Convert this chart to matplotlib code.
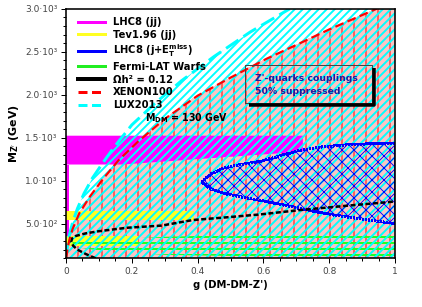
import matplotlib
matplotlib.use("Agg")
import matplotlib.pyplot as plt
from matplotlib.lines import Line2D
from matplotlib.ticker import MultipleLocator, FixedLocator

# ---------------- data ----------------
# LUX2013 exclusion boundary (region to the right is excluded)
lux_g = [0.0, 0.002, 0.005, 0.01, 0.02, 0.035, 0.055, 0.08, 0.112, 0.15, 0.2, 0.27, 0.35, 0.45, 0.56, 0.68]
lux_M = [100, 165, 260, 365, 515, 680, 855, 1030, 1210, 1410, 1650, 1900, 2160, 2445, 2730, 3000]

# XENON100 exclusion boundary
xen_g = [0.001, 0.005, 0.01, 0.02, 0.04, 0.073, 0.112, 0.16, 0.22, 0.3, 0.4, 0.5, 0.61, 0.7, 0.8, 0.944]
xen_M = [100, 220, 310, 440, 620, 820, 1020, 1240, 1460, 1720, 1990, 2200, 2420, 2580, 2760, 3000]

# LHC8 (jj) band
lhcjj_g = [0.0, 0.17, 0.72, 0.72, 0.0]
lhcjj_M = [1190, 1190, 1340, 1525, 1525]
# thin LHC8 (jj) strip along g ~ 0
lhcjj_strip_g = [0.0, 0.008, 0.008, 0.0]
lhcjj_strip_M = [360, 360, 1190, 1190]

# Tevatron 1.96 (jj) bands
tev1_g = [0.0, 0.39, 0.39, 0.0]
tev1_M = [550, 550, 645, 645]
tev2_g = [0.0, 0.22, 0.22, 0.0]
tev2_M = [245, 245, 360, 360]

# LHC8 (j + ET miss) region
mono_top_g = [0.413, 0.44, 0.48, 0.53, 0.59, 0.65, 0.71, 0.78, 0.86, 0.93, 1.0]
mono_top_M = [987, 1080, 1150, 1190, 1225, 1290, 1355, 1395, 1420, 1432, 1440]
mono_bot_g = [0.413, 0.44, 0.48, 0.53, 0.59, 0.66, 0.73, 0.81, 0.9, 1.0]
mono_bot_M = [987, 905, 855, 815, 775, 720, 665, 605, 555, 505]

# Fermi-LAT dwarfs region
fermi_top_g = [0.02, 0.1, 0.3, 0.6, 1.0]
fermi_top_M = [295, 310, 350, 380, 397]
fermi_bot_g = [0.02, 0.1, 0.3, 0.6, 1.0]
fermi_bot_M = [235, 190, 140, 120, 115]

# relic density contour
relic_g = [0.09, 0.06, 0.035, 0.022, 0.016, 0.018, 0.03, 0.06, 0.1, 0.185, 0.29, 0.386, 0.5, 0.59, 0.71, 0.85, 1.0]
relic_M = [100, 150, 200, 245, 290, 330, 360, 390, 415, 455, 480, 545, 580, 610, 660, 710, 760]

yticks = [500, 1000, 1500, 2000, 2500, 3000]
ytick_labels = ["5.0·10²", "1.0·10³", "1.5·10³", "2.0·10³", "2.5·10³", "3.0·10³"]
xticks = [0, 0.2, 0.4, 0.6, 0.8, 1.0]
xtick_labels = ["0", "0.2", "0.4", "0.6", "0.8", "1"]

legend_labels = ["LHC8 (jj)", "Tev1.96 (jj)", r"LHC8 (j+E$_T^{miss}$)", "Fermi-LAT Warfs",
                 "Ωh² = 0.12", "XENON100", "LUX2013"]

# ---------------- styling ----------------
plt.rcParams['font.family'] = ['DejaVu Sans']
plt.rcParams['mathtext.default'] = 'bf'

DPI = 72
fig = plt.figure(figsize=(422 / DPI, 307 / DPI), dpi=DPI)
ax = fig.add_axes([66 / 422, 1 - 258.3 / 307, (395 - 66) / 422, (258.3 - 8.8) / 307])
ax.set_xlim(0, 1)
ax.set_ylim(100, 3000)


def set_hlw(patches, lw):
    for p in patches:
        if hasattr(p, "set_hatch_linewidth"):
            p.set_hatch_linewidth(lw)


# XENON100 region: pink face + red vertical hatch
plt.rcParams['hatch.linewidth'] = 1.0
xp = ax.fill(xen_g + [1.0, 1.0], xen_M + [3000, 100], facecolor='#fbc4c4', edgecolor='#ff0000',
             hatch='|', linewidth=0, zorder=1, antialiased=False)
set_hlw(xp, 1.0)

# LHC8 jj band
ax.fill(lhcjj_g, lhcjj_M, facecolor='#ff00ff', edgecolor='none', linewidth=0, zorder=2)
ax.fill(lhcjj_strip_g, lhcjj_strip_M, facecolor='#ff00ff', edgecolor='none', linewidth=0, zorder=2)

# Tevatron bands
ax.fill(tev1_g, tev1_M, facecolor='#ffff22', edgecolor='none', linewidth=0, zorder=2)
ax.fill(tev2_g, tev2_M, facecolor='#ffff22', edgecolor='none', linewidth=0, zorder=2)

# Fermi-LAT region
plt.rcParams['hatch.linewidth'] = 2.0
fp = ax.fill(fermi_top_g + fermi_bot_g[::-1], fermi_top_M + fermi_bot_M[::-1], facecolor='none',
             edgecolor='#22ff22', hatch='--', linewidth=0, zorder=2.5, antialiased=False)
set_hlw(fp, 2.0)

# LUX region: cyan diagonal hatch, no face
plt.rcParams['hatch.linewidth'] = 1.9
lp = ax.fill(lux_g + [1.0, 1.0], lux_M + [3000, 100], facecolor='none', edgecolor='#00ffff',
             hatch='///', linewidth=0, zorder=3, antialiased=False)
set_hlw(lp, 1.9)

# LHC8 mono-jet region
plt.rcParams['hatch.linewidth'] = 0.9
mp = ax.fill(mono_top_g + mono_bot_g[::-1], mono_top_M + mono_bot_M[::-1], facecolor='none',
             edgecolor='#0000ff', hatch='xx', linewidth=1.5, linestyle=(0, (1, 1)), zorder=4,
             antialiased=False)
set_hlw(mp, 0.9)

# boundary lines
ax.plot(relic_g, relic_M, color='black', lw=2.5, linestyle=(0, (2, 1)), zorder=6)
ax.plot(xen_g, xen_M, color='#ff0000', lw=2.2, linestyle=(0, (4, 2)), zorder=6)
ax.plot(lux_g, lux_M, color='#00ffff', lw=3, linestyle=(0, (5, 2)), zorder=5)

# text box
bx0, bx1, by0, by1 = 0.544, 0.929, 1902, 2347
ax.plot([bx0, bx1, bx1, bx0, bx0], [by0, by0, by1, by1, by0], color='#444444', lw=1, zorder=7)
ax.plot([bx0 + 0.012, bx1 + 0.006, bx1 + 0.006], [by0 - 22, by0 - 22, by1 - 40],
        color='black', lw=3.5, zorder=7, solid_capstyle='butt')
ax.text(0.574, 2195, "Z'-quarks couplings", color='#1a1aa0', fontsize=9.3, fontweight='bold',
        va='center', ha='left', zorder=8)
ax.text(0.574, 2033, "50% suppressed", color='#1a1aa0', fontsize=9.3, fontweight='bold',
        va='center', ha='left', zorder=8)

ax.text(0.24, 1731, r"M$_{DM}$ = 130 GeV", color='black', fontsize=9.5, fontweight='bold',
        va='center', ha='left', zorder=8)

# legend
handles = [
    Line2D([], [], color='#ff00ff', lw=3),
    Line2D([], [], color='#ffff22', lw=3),
    Line2D([], [], color='#0000ff', lw=3),
    Line2D([], [], color='#22ee22', lw=3),
    Line2D([], [], color='black', lw=4),
    Line2D([], [], color='#ff0000', lw=3, linestyle=(0, (3, 1.5))),
    Line2D([], [], color='#00ffff', lw=3, linestyle=(0, (3, 1.5))),
]
leg = ax.legend(handles, legend_labels, loc='upper left', bbox_to_anchor=(0.036, 0.967),
                frameon=False, borderpad=0, borderaxespad=0, handlelength=2.7,
                handletextpad=0.8, labelspacing=0.27, prop={'weight': 'bold', 'size': 10})
leg.set_zorder(9)

# axes
ax.xaxis.set_major_locator(FixedLocator(xticks))
ax.set_xticklabels(xtick_labels)
ax.xaxis.set_minor_locator(MultipleLocator(0.05))
ax.yaxis.set_major_locator(FixedLocator(yticks))
ax.set_yticklabels(ytick_labels)
ax.yaxis.set_minor_locator(MultipleLocator(100))
ax.tick_params(which='major', direction='out', length=5, width=1, labelsize=9, labelcolor='#444444')
ax.tick_params(which='minor', direction='out', length=3, width=1)
for s in ax.spines.values():
    s.set_linewidth(1.6)
    s.set_zorder(10)

ax.set_xlabel("g (DM-DM-Z')", fontsize=10, fontweight='bold', labelpad=4)
ax.set_ylabel(r"M$_{Z'}$ (GeV)", fontsize=11, fontweight='bold', labelpad=4)

fig.savefig("out.png", dpi=DPI)
